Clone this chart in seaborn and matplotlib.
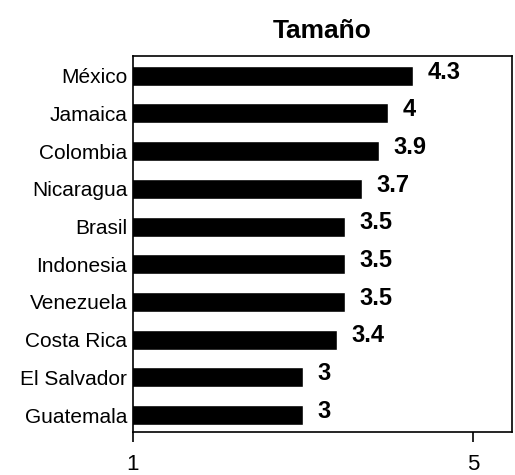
import pandas as pd
import matplotlib.pyplot as plt
import seaborn as sns

# Datos
paises = ['México', 'Jamaica', 'Colombia', 'Nicaragua', 'Brasil',
          'Indonesia', 'Venezuela', 'Costa Rica', 'El Salvador', 'Guatemala']
valores = [4.3, 4, 3.9, 3.7, 3.5, 3.5, 3.5, 3.4, 3, 3]
etiquetas = ['4.3', '4', '3.9', '3.7', '3.5', '3.5', '3.5', '3.4', '3', '3']

df = pd.DataFrame({'Pais': paises, 'Valor': valores})

sns.set_style('white')
plt.rcParams['font.family'] = ['Liberation Sans', 'DejaVu Sans']
plt.rcParams['text.color'] = 'black'
plt.rcParams['xtick.color'] = 'black'
plt.rcParams['ytick.color'] = 'black'

fig = plt.figure(figsize=(5.15, 4.75), dpi=100)
ax = fig.add_axes([0.258, 0.0905, 0.736, 0.792])

sns.barplot(data=df, x='Valor', y='Pais', orient='h', color='black',
            width=0.53, saturation=1, ax=ax)

for i, (v, t) in enumerate(zip(valores, etiquetas)):
    ax.text(v + 0.17, i - 0.1, t, ha='left', va='center',
            fontsize=17, fontweight='bold')

ax.set_xlim(1, 5.46)
ax.set_ylim(9.45, -0.53)
ax.set_xticks([1, 5])
ax.set_xticklabels(['1', '5'], fontsize=16)
ax.tick_params(axis='x', direction='out', length=7, width=1.2, pad=9, bottom=True)
ax.tick_params(axis='y', length=0, labelsize=15, pad=4)
ax.set_xlabel('')
ax.set_ylabel('')
for s in ax.spines.values():
    s.set_color('black')
    s.set_linewidth(1.2)

ax.set_title('Tamaño', fontsize=19, fontweight='bold', pad=13)

fig.savefig('out.png', dpi=100)
